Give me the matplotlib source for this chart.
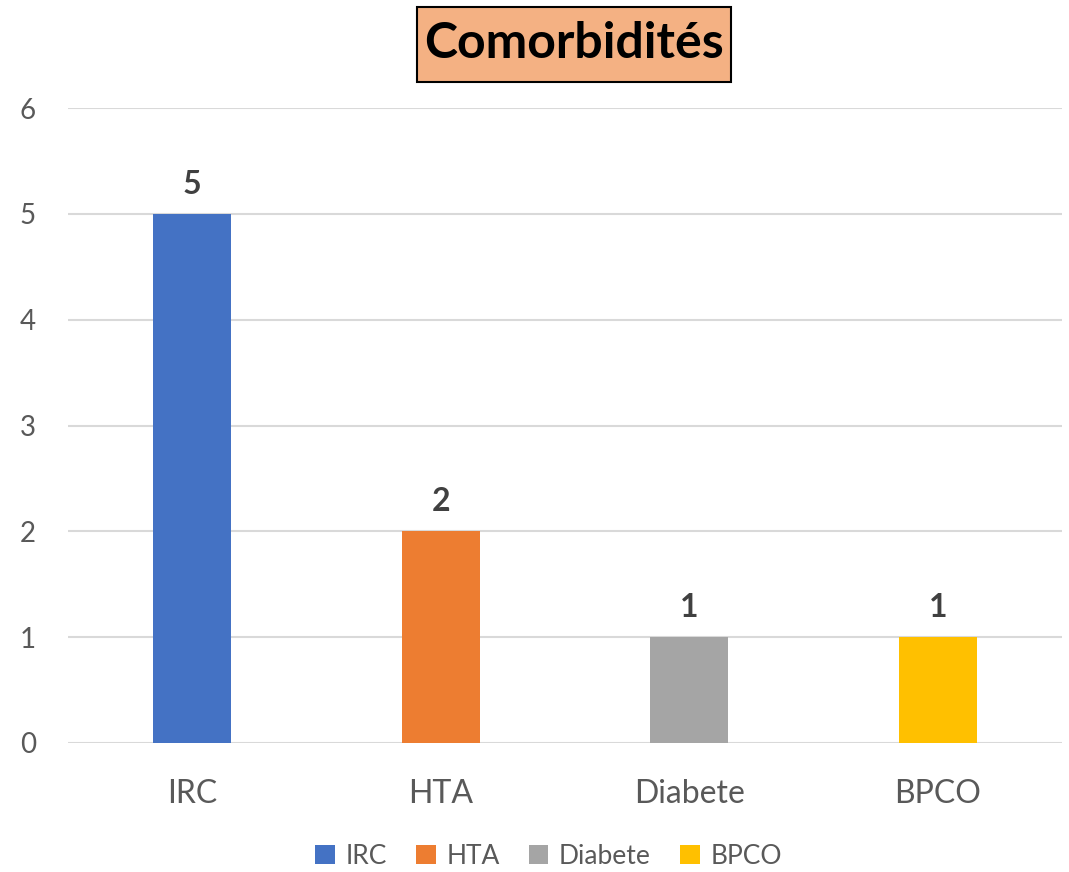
import matplotlib
matplotlib.use("Agg")
import matplotlib.pyplot as plt
from matplotlib.patches import Patch, Rectangle

categories = ["IRC", "HTA", "Diabete", "BPCO"]
values = [5, 2, 1, 1]
colors = ["#4472C4", "#ED7D31", "#A5A5A5", "#FFC000"]
yticks = [0, 1, 2, 3, 4, 5, 6]

plt.rcParams['font.family'] = ['Lato', 'DejaVu Sans']

fig = plt.figure(figsize=(10.69, 8.72), dpi=100)
ax = fig.add_axes([0.0636, 0.148, 0.93, 0.728])

x = list(range(len(categories)))
bars = ax.bar(x, values, width=0.313, color=colors, zorder=3)

# data labels above the bars
for b, v in zip(bars, values):
    ax.annotate(str(v), (b.get_x() + b.get_width() / 2, v), xytext=(0, 11),
                textcoords="offset points", ha="center", va="bottom",
                fontsize=23, fontweight="bold", color="#404040")

ax.set_xlim(-0.5, 3.5)
ax.set_ylim(0, 6)
ax.set_yticks(yticks)
ax.set_xticks(x)
ax.set_xticklabels(categories)
ax.tick_params(axis="x", length=0, pad=26, labelsize=23, labelcolor="#595959")
ax.tick_params(axis="y", length=0, pad=23, labelsize=20, labelcolor="#595959")

ax.grid(axis="y", color="#D9D9D9", linewidth=1.5, zorder=0)
for s in ax.spines.values():
    s.set_visible(False)

# title in an orange box, like the Excel chart title
fig.patches.append(Rectangle((0.390, 0.906), 0.294, 0.086, transform=fig.transFigure,
                             facecolor="#F4B183", edgecolor="black", linewidth=1.5))
fig.text(0.537, 0.950, "Comorbidités", ha="center", va="center",
         fontsize=36, fontweight="bold", color="black")

handles = [Patch(facecolor=c, label=n) for c, n in zip(colors, categories)]
fig.legend(handles=handles, loc="center", bbox_to_anchor=(0.513, 0.018),
           ncol=4, frameon=False, fontsize=19, labelcolor="#595959",
           handlelength=0.75, handleheight=0.75, handletextpad=0.4,
           columnspacing=1.1)

fig.savefig("out.png", dpi=100)
